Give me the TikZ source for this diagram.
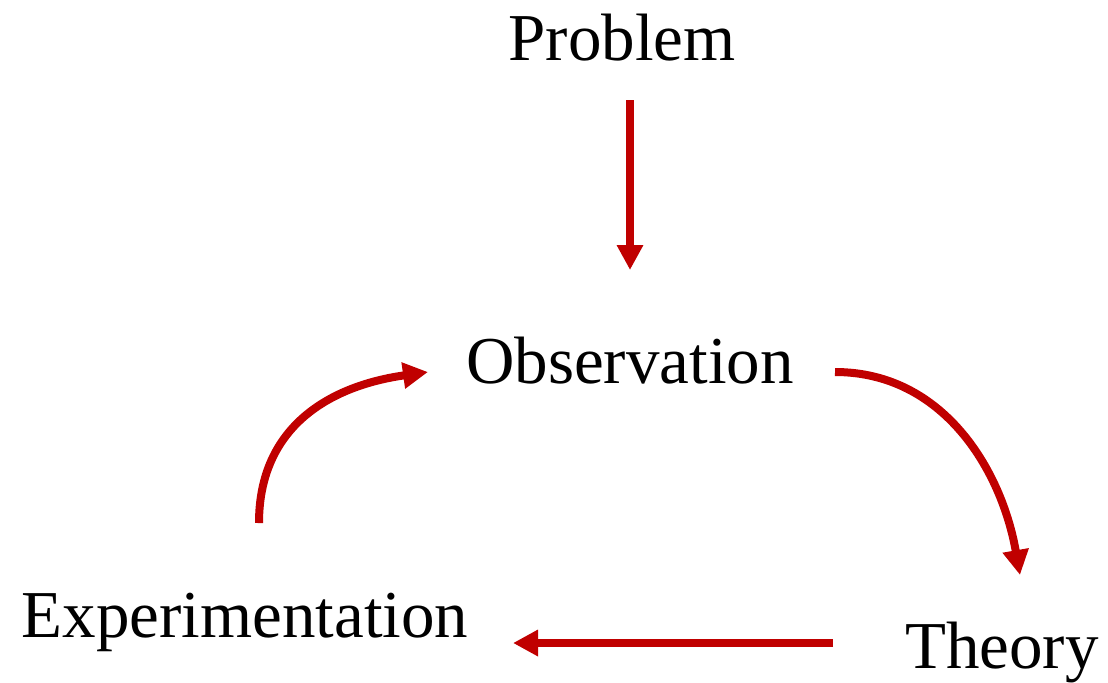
\documentclass[tikz,border=0pt]{standalone}
\usepackage{fontspec}
\setmainfont{Liberation Serif}
\usetikzlibrary{arrows.meta}
\definecolor{cycRed}{RGB}{192,0,0}

\begin{document}
\begin{tikzpicture}[
    x=0.5pt,y=0.5pt,
    lbl/.style={inner sep=0pt,anchor=base,font=\fontsize{33.5}{40}\selectfont},
    arrow/.style={-{Triangle[length=12.5pt,width=12.5pt]},line width=4pt,cycRed}
  ]
    \useasboundingbox (0,0) rectangle (1108,-682);
    \node[lbl] (prob) at (622,-60) {Problem};
    \node[lbl] (obs) at (630,-383) {Observation};
    \node[lbl] (theo) at (1002,-668) {Theory};
    \node[lbl] (expt) at (245,-637) {Experimentation};
    \draw[arrow] ([shift={(8,-40)}]prob.base) -- ([shift={(0,113)}]obs.base);
    \draw[arrow] ([shift={(205,11)}]obs.base) to[out=0,in=100,looseness=1.0] ([shift={(18,93)}]theo.base);
    \draw[arrow] ([shift={(-169,25)}]theo.base) -- ([shift={(268,-6)}]expt.base);
    \draw[arrow] ([shift={(14,114)}]expt.base) to[out=90,in=188,looseness=1.1] ([shift={(-202,11)}]obs.base);
  \end{tikzpicture}
\end{document}
